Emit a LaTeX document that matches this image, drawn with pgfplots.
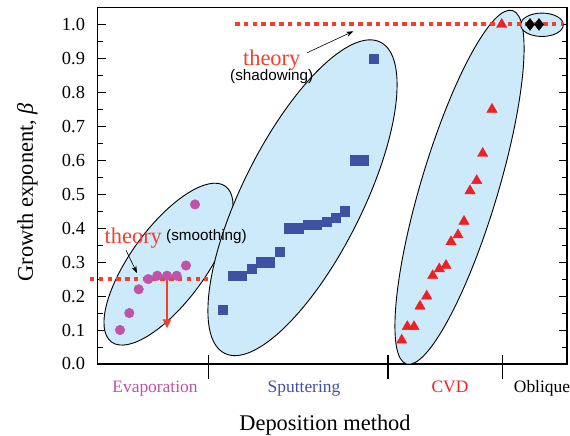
\documentclass[border=0pt]{standalone}
\usepackage{fontspec}
\setmainfont{Liberation Serif}
\newfontfamily\helv{Liberation Sans}
\usepackage{pgfplots}
\pgfplotsset{compat=1.18}
\usetikzlibrary{shapes.geometric,arrows.meta}
\definecolor{evapcol}{RGB}{192,82,168}
\definecolor{sputcol}{RGB}{63,81,163}
\definecolor{cvdcol}{RGB}{237,32,36}
\definecolor{theorycol}{RGB}{240,65,45}
\definecolor{ellfill}{RGB}{205,234,250}
\begin{document}
\begin{tikzpicture}
\begin{axis}[
  scale only axis, width=469.5bp, height=356.5bp,
  xmin=97.5, xmax=567, ymin=0, ymax=1.05,
  xtick=\empty,
  ytick={0,0.1,...,1.0},
  minor y tick num=1,
  tick align=inside,
  major tick length=8bp, minor tick length=5bp,
  every tick/.style={black, line width=0.9bp},
  axis line style={line width=1.1bp},
  clip=false,
  yticklabel={\textrm{\pgfmathprintnumber[assume math mode=true,fixed,fixed zerofill,precision=1]{\tick}}},
  yticklabel style={font=\rmfamily\fontsize{18.5}{20}\selectfont, xshift=-9bp},
]
\coordinate (o) at (axis cs:97.5,0);
% ellipses
\node[ellipse, draw=black, line width=0.9bp, fill=ellfill, inner sep=0pt,
  minimum width=193bp, minimum height=75bp, rotate=53.8] at (axis cs:168.5,0.2941) {};
\node[ellipse, draw=black, line width=0.9bp, fill=ellfill, inner sep=0pt,
  minimum width=348bp, minimum height=120bp, rotate=63.4] at (axis cs:302.5,0.4897) {};
\node[ellipse, draw=black, line width=0.9bp, fill=ellfill, inner sep=0pt,
  minimum width=369bp, minimum height=77bp, rotate=73.3] at (axis cs:459.5,0.5206) {};
\node[ellipse, draw=black, line width=0.9bp, fill=ellfill, inner sep=0pt,
  minimum width=42.6bp, minimum height=23.4bp] at (axis cs:542,0.9991) {};
% theory lines
\addplot[theorycol, line width=4bp, dash pattern=on 4.5bp off 4.3bp] coordinates {(90,0.25) (208,0.25)};
\addplot[theorycol, line width=4bp, dash pattern=on 4.5bp off 4.3bp] coordinates {(235,1.0) (563,1.0)};
\addplot[theorycol, line width=2bp, -{Triangle[length=9bp,width=8bp]}] coordinates {(167,0.25) (167,0.105)};
% data
\addplot[only marks, mark=*, mark size=4.8bp, evapcol, mark options={draw=evapcol, fill=evapcol}] coordinates {
(120,0.10) (129.3,0.15) (138.7,0.22) (148.3,0.25) (157.3,0.26) (167,0.26) (176.7,0.26) (186,0.29) (195,0.47)};
\addplot[only marks, mark=square*, mark size=4.6bp, sputcol, mark options={draw=sputcol, fill=sputcol}] coordinates {
(222.7,0.16) (232.7,0.26) (241.7,0.26) (251.7,0.28) (261,0.30) (270,0.30) (279.3,0.33)
(289,0.40) (298.3,0.40) (307.7,0.41) (316.7,0.41) (326.7,0.42) (335.7,0.43) (345,0.45)
(354.3,0.60) (363.7,0.60) (373.3,0.90)};
\addplot[only marks, mark=triangle*, mark size=6bp, cvdcol, mark options={draw=cvdcol, fill=cvdcol}] coordinates {
(401.7,0.07) (407.3,0.11) (414,0.11) (420,0.17) (426.7,0.20) (432.7,0.26) (439.3,0.28)
(446,0.29) (451,0.36) (458,0.38) (464,0.42) (470,0.51) (476.7,0.54) (482.7,0.62)
(492,0.75) (501.7,1.00)};
\addplot[only marks, mark=diamond*, mark size=6bp, black, mark options={draw=black, fill=black}] coordinates {
(530,1.0) (539,1.0)};
% annotations
\node[anchor=base, text=theorycol, font=\fontsize{22.5}{24}\selectfont, inner sep=0pt] at (axis cs:133.3,0.355) {theory};
\node[anchor=base west, font=\helv\fontsize{15.3}{17}\selectfont, inner sep=0pt] at (axis cs:166,0.365) {(smoothing)};
\draw[-{Stealth[length=7bp,width=5bp]}, line width=0.6bp] (axis cs:126,0.335) -- (axis cs:137,0.268);
\node[anchor=base, text=theorycol, font=\fontsize{22.5}{24}\selectfont, inner sep=0pt] at (axis cs:271.7,0.879) {theory};
\node[anchor=base, font=\helv\fontsize{15.3}{17}\selectfont, inner sep=0pt] at (axis cs:271.7,0.834) {(shadowing)};
\draw[-{Stealth[length=7bp,width=5bp]}, line width=0.6bp] (axis cs:307.3,0.917) -- (axis cs:353.3,0.980);
% category separators
\draw[line width=1.1bp] (axis cs:208.3,0.026) -- (axis cs:208.3,-0.044);
\draw[line width=1.1bp] (axis cs:388,0.026) -- (axis cs:388,-0.044);
\draw[line width=1.1bp] (axis cs:502.7,0.026) -- (axis cs:502.7,-0.044);
% category labels
\node[anchor=base, text=evapcol, font=\fontsize{17.5}{19}\selectfont, inner sep=0pt] at (axis cs:155,-0.0844) {Evaporation};
\node[anchor=base, text=sputcol, font=\fontsize{17.5}{19}\selectfont, inner sep=0pt] at (axis cs:304,-0.0844) {Sputtering};
\node[anchor=base, text=cvdcol, font=\fontsize{17.5}{19}\selectfont, inner sep=0pt] at (axis cs:450,-0.0844) {CVD};
\node[anchor=base, text=black, font=\fontsize{17.5}{19}\selectfont, inner sep=0pt] at (axis cs:542,-0.0844) {Oblique};
% axis labels
\node[anchor=base, font=\fontsize{22.5}{24}\selectfont, inner sep=0pt] at (axis cs:325,-0.196) {Deposition method};
\node[anchor=base, rotate=90, font=\fontsize{22.5}{24}\selectfont, inner sep=0pt] at (axis cs:33,0.506) {Growth exponent, \textit{β}};
\end{axis}
\pgfresetboundingbox
\path (o) ++(-97.5bp,-72bp) rectangle ++(570bp,436bp);
\end{tikzpicture}
\end{document}
